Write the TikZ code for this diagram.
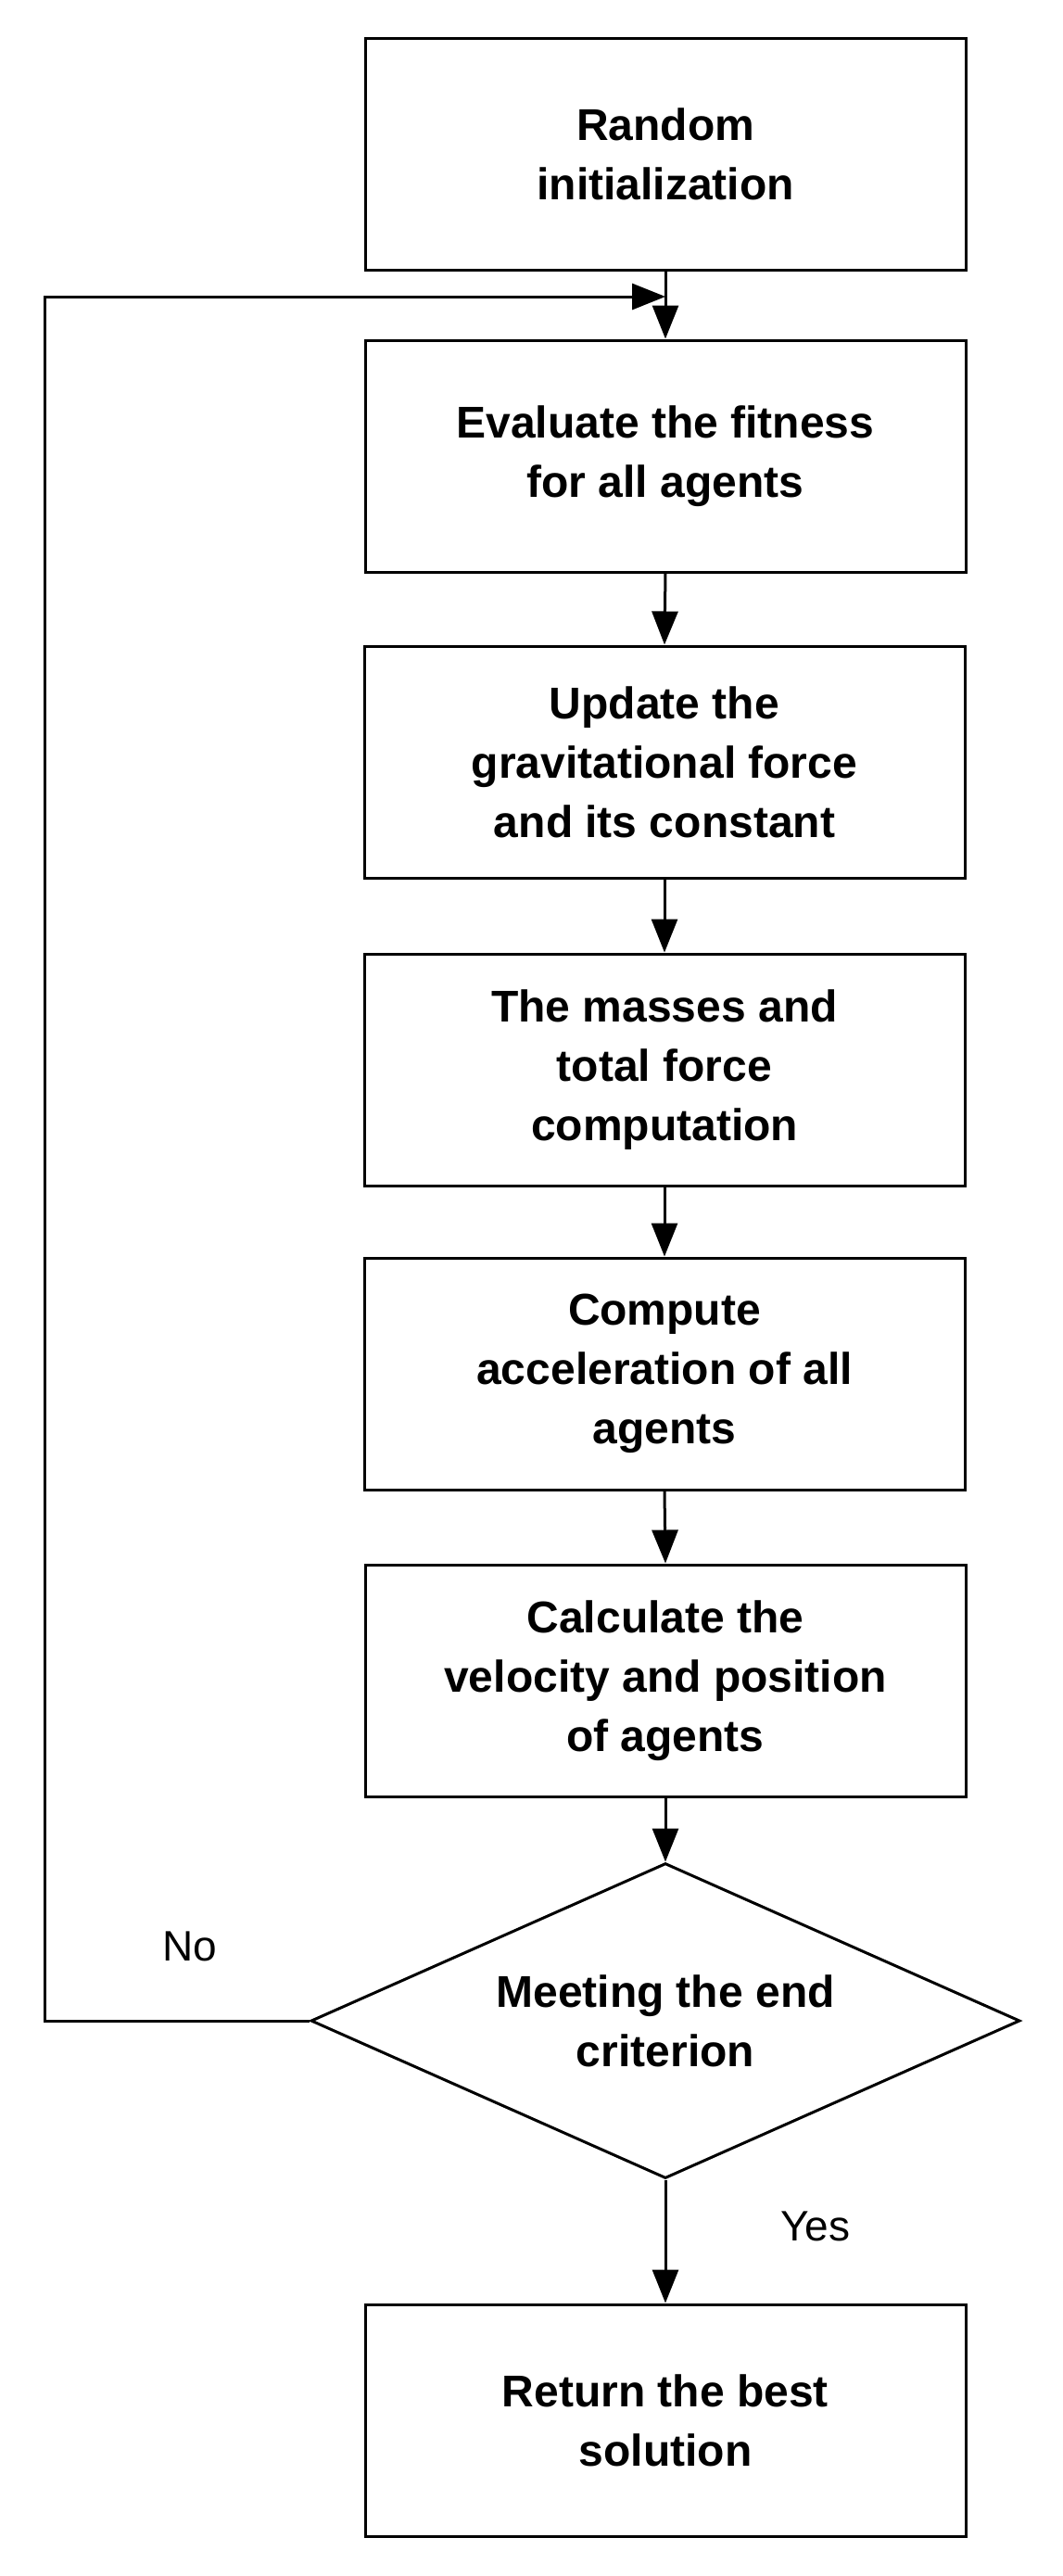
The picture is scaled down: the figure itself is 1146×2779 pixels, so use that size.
\documentclass[tikz,border=0pt]{standalone}
\usepackage{fontspec}
\setmainfont{Liberation Sans}
\usetikzlibrary{arrows.meta,shapes.geometric}
\begin{document}
\begin{tikzpicture}[x=1pt,y=-1pt,
  box/.style={draw,line width=3pt,minimum width=648pt,minimum height=250pt,align=center,
    font=\fontsize{48}{64}\selectfont\bfseries,inner sep=0pt},
  lbl/.style={font=\fontsize{46}{50}\selectfont},
  arr/.style={line width=3pt,-{Triangle[length=36pt,width=28pt]}}]
\useasboundingbox (0,0) rectangle (1146,2779);
\node[box] (b1) at (718,166) {Random\\initialization};
\node[box] (b2) at (718,492) {Evaluate the fitness\\for all agents};
\node[box] (b3) at (717,822) {Update the\\gravitational force\\and its constant};
\node[box] (b4) at (717,1154) {The masses and\\total force\\computation};
\node[box] (b5) at (717,1482) {Compute\\acceleration of all\\agents};
\node[box] (b6) at (718,1813) {Calculate the\\velocity and position\\of agents};
\node[draw,line width=3pt,diamond,shape aspect=2.05,minimum width=765pt,minimum height=340pt,inner sep=0pt,
  align=center,font=\fontsize{48}{64}\selectfont\bfseries] (d) at (718,2180) {Meeting the end\\criterion};
\node[box] (b7) at (718,2611) {Return the best\\solution};
\coordinate (m) at (718,320);
\coordinate (lc) at (48,2180);
\coordinate (lt) at (48,320);
\draw[line width=3pt] (b1.south) -- (m);
\draw[arr] (m) -- (b2.north);
\draw[arr] (d.west) -- (lc) -- (lt) -- (m);
\draw[arr] (b2.south) -- (b3.north);
\draw[arr] (b3.south) -- (b4.north);
\draw[arr] (b4.south) -- (b5.north);
\draw[arr] (b5.south) -- (b6.north);
\draw[arr] (b6.south) -- (d.north);
\draw[arr] (d.south) -- (b7.north);
\node[lbl] (no) at (205,2100) {No};
\node[lbl] (yes) at (880,2402) {Yes};
\end{tikzpicture}
\end{document}
